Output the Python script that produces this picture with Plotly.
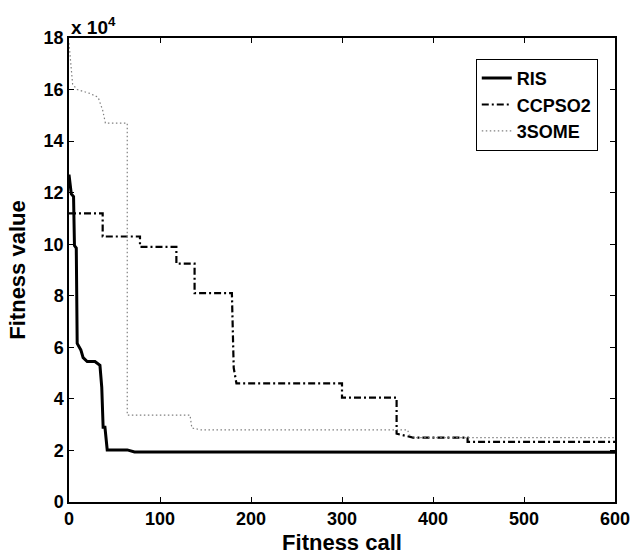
import plotly.graph_objects as go

# fitness values in units of 1e4
ris_x = [0, 1.5, 2.5, 5, 6, 8, 9, 13, 15.5, 20, 28.5, 34, 36, 37.5, 39.5, 42, 64, 72, 600]
ris_y = [12.7, 12.1, 11.95, 11.85, 9.95, 9.85, 6.15, 5.9, 5.6, 5.45, 5.45, 5.3, 4.45, 2.9, 2.9, 2.02, 2.02, 1.94, 1.93]

cc_x = [0, 37, 37, 78, 78, 118, 118, 138, 138, 179, 181, 184, 300, 300, 360, 360, 378, 438, 438, 600]
cc_y = [11.2, 11.2, 10.3, 10.3, 9.9, 9.9, 9.25, 9.25, 8.1, 8.1, 5.2, 4.6, 4.6, 4.05, 4.05, 2.65, 2.5, 2.5, 2.33, 2.33]

some_x = [0, 4, 9, 23, 32, 37, 40, 64, 64, 133, 135, 145, 372, 374, 380, 600]
some_y = [17.8, 16.2, 16.0, 15.85, 15.7, 15.2, 14.7, 14.7, 3.37, 3.37, 2.87, 2.8, 2.8, 2.6, 2.5, 2.5]

x_ticks = [0, 100, 200, 300, 400, 500, 600]
y_ticks = [0, 2, 4, 6, 8, 10, 12, 14, 16, 18]

FONT = "Liberation Sans, Arial, Helvetica, sans-serif"

fig = go.Figure()
fig.add_trace(go.Scatter(x=ris_x, y=ris_y, mode="lines", name="RIS",
                         line=dict(color="black", width=3)))
fig.add_trace(go.Scatter(x=cc_x, y=cc_y, mode="lines", name="CCPSO2",
                         line=dict(color="black", width=2.2, dash="7px,3px,2px,3px")))
fig.add_trace(go.Scatter(x=some_x, y=some_y, mode="lines", name="3SOME",
                         line=dict(color="#808080", width=1.2, dash="1.5px,2.5px")))

axis_common = dict(
    showline=True, linecolor="black", linewidth=1.5, mirror="ticks",
    ticks="inside", ticklen=5, tickwidth=1, tickcolor="black",
    showgrid=False, zeroline=False, automargin=False,
    tickfont=dict(family=FONT, size=18, color="black", weight="bold"),
)

fig.update_xaxes(range=[0, 600], tickvals=x_ticks, **axis_common,
                 title=dict(text="Fitness call", standoff=6,
                            font=dict(family=FONT, size=22, color="black", weight="bold")))
fig.update_yaxes(range=[0, 18], tickvals=y_ticks, **axis_common,
                 title=dict(text="Fitness value", standoff=12,
                            font=dict(family=FONT, size=22, color="black", weight="bold")))

fig.add_annotation(text="x 10<sup>4</sup>", xref="paper", yref="paper", x=0, y=1,
                   xanchor="left", yanchor="bottom", showarrow=False, yshift=-2,
                   font=dict(family=FONT, size=19, color="black", weight="bold"))

fig.update_layout(
    width=633, height=559,
    margin=dict(l=69, r=18, t=38, b=57),
    plot_bgcolor="white", paper_bgcolor="white",
    font=dict(family=FONT, color="black"),
    legend=dict(x=0.745, y=0.955, xanchor="left", yanchor="top",
                bordercolor="black", borderwidth=1, bgcolor="white",
                itemwidth=30, tracegroupgap=0,
                font=dict(family=FONT, size=18, color="black", weight="bold")),
)

# drop the browser's default 8px body margin so the figure fills the window
fig.write_html("out.html", config={"displayModeBar": False},
               post_script="document.body.style.margin='0';")
